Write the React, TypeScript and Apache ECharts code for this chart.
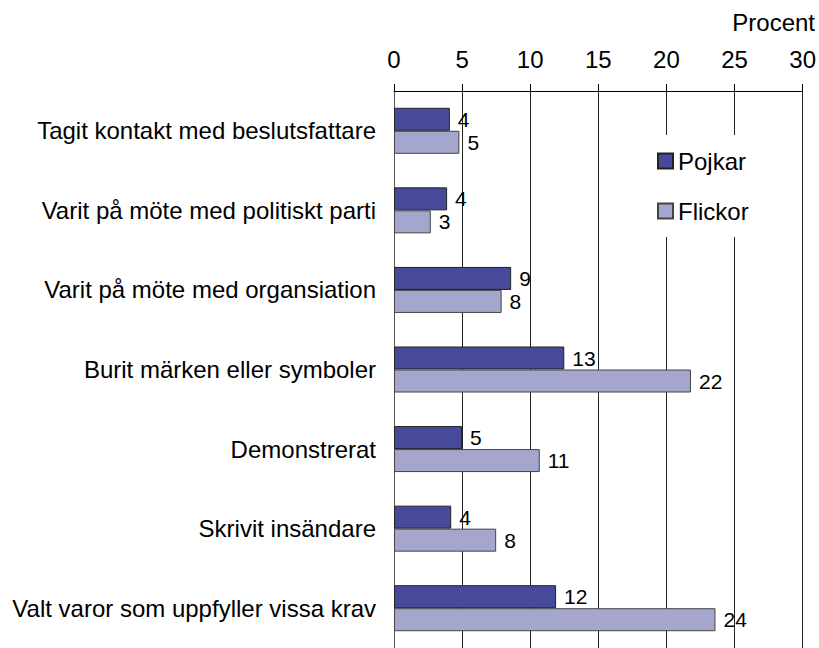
import React, { useEffect, useRef } from "react";
import * as echarts from "echarts";

const categories = [
  "Tagit kontakt med beslutsfattare",
  "Varit på möte med politiskt parti",
  "Varit på möte med organsiation",
  "Burit märken eller symboler",
  "Demonstrerat",
  "Skrivit insändare",
  "Valt varor som uppfyller vissa krav",
];
const pojkar = [4.1, 3.9, 8.6, 12.5, 5.0, 4.2, 11.9];
const flickor = [4.8, 2.7, 7.9, 21.8, 10.7, 7.5, 23.6];
const seriesNames = ["Pojkar", "Flickor"];
const axisTitle = "Procent";
const xMin = 0;
const xMax = 30;
const xStep = 5;

const FONT = "'Liberation Sans', Arial, sans-serif";

export default function App() {
  const ref = useRef<HTMLDivElement>(null);
  useEffect(() => {
    document.body.style.margin = "0";
    const chart = echarts.init(ref.current!, null, { renderer: "svg" });
    const barLabel = {
      show: true,
      position: "right",
      distance: 8,
      fontSize: 21,
      fontFamily: FONT,
      color: "#000",
      formatter: (p: any) => String(Math.round(p.value)),
    };
    chart.setOption({
      animation: false,
      backgroundColor: "#fff",
      textStyle: { fontFamily: FONT },
      grid: { left: 394, top: 91, width: 411, height: 560, containLabel: false },
      legend: {
        data: seriesNames,
        orient: "vertical",
        left: 647,
        top: 135,
        padding: [14, 22, 14, 10],
        backgroundColor: "#fff",
        itemWidth: 15,
        itemHeight: 15,
        itemGap: 26,
        icon: "rect",
        textStyle: { fontSize: 24, color: "#000", fontFamily: FONT, lineHeight: 24 },
      },
      xAxis: {
        type: "value",
        position: "top",
        min: xMin,
        max: xMax,
        interval: xStep,
        axisLine: { show: true, lineStyle: { color: "#000", width: 1 } },
        axisTick: { show: true, inside: false, length: 7, lineStyle: { color: "#000" } },
        axisLabel: { fontSize: 24, color: "#000", margin: 20, fontFamily: FONT },
        splitLine: { show: true, lineStyle: { color: "#222", width: 1 } },
      },
      yAxis: {
        type: "category",
        inverse: true,
        data: categories,
        axisLine: { show: true, lineStyle: { color: "#555", width: 1 } },
        axisTick: { show: false },
        axisLabel: { fontSize: 24, color: "#000", margin: 18, fontFamily: FONT },
        splitLine: { show: false },
      },
      series: [
        {
          name: seriesNames[0],
          type: "bar",
          data: pojkar,
          barWidth: 23,
          barGap: "0%",
          itemStyle: { color: "#47499A", borderColor: "#222", borderWidth: 1 },
          label: barLabel,
        },
        {
          name: seriesNames[1],
          type: "bar",
          data: flickor,
          barWidth: 23,
          barGap: "0%",
          itemStyle: { color: "#A5A6CD", borderColor: "#444", borderWidth: 1 },
          label: barLabel,
        },
      ],
      graphic: [
        {
          type: "text",
          x: 815,
          y: 22,
          style: {
            text: axisTitle,
            fontSize: 24,
            fontFamily: FONT,
            fill: "#000",
            textAlign: "right",
            textVerticalAlign: "middle",
          },
        },
      ],
    });
    return () => chart.dispose();
  }, []);
  return <div ref={ref} style={{ width: 819, height: 648 }} />;
}
